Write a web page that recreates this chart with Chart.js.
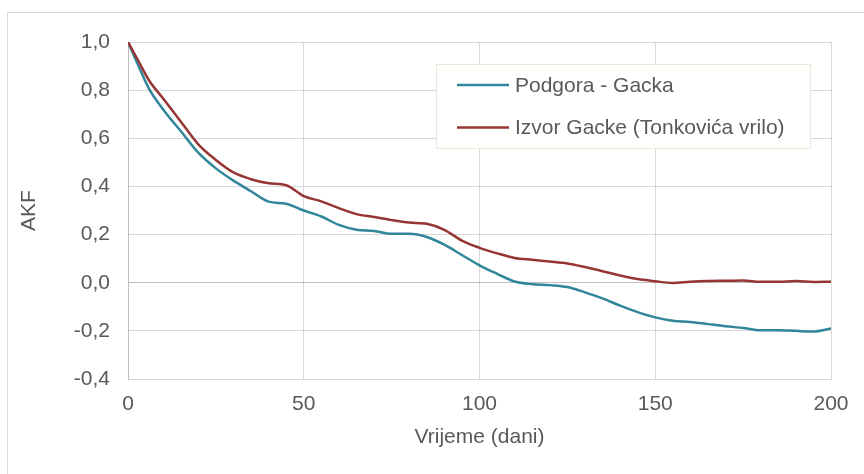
<!DOCTYPE html>
<html>
<head>
<meta charset="utf-8">
<script src="https://cdn.jsdelivr.net/npm/chart.js@4/dist/chart.umd.min.js"></script>
<style>
  html, body { margin:0; padding:0; background:#fff; }
  #wrap { position:relative; width:864px; height:474px; }
</style>
</head>
<body>
<div id="wrap"><canvas id="akfChart" width="864" height="474"></canvas></div>
<script>
// vrijeme (dani)
const days = [0,3,6,10,15,20,25,30,35,40,45,50,55,60,65,70,75,80,85,90,95,100,105,110,115,120,125,130,135,140,145,150,155,160,165,170,175,180,185,190,195,200];
// Podgora - Gacka
const podgora = [1.0,0.9,0.805,0.72,0.63,0.54,0.475,0.424,0.38,0.337,0.328,0.30,0.275,0.24,0.22,0.215,0.203,0.203,0.19,0.158,0.115,0.072,0.037,0.005,-0.006,-0.01,-0.018,-0.04,-0.065,-0.095,-0.122,-0.144,-0.158,-0.163,-0.172,-0.181,-0.188,-0.197,-0.197,-0.2,-0.203,-0.19];
// Izvor Gacke (Tonkovića vrilo)
const izvor = [1.0,0.92,0.84,0.765,0.67,0.575,0.51,0.458,0.43,0.413,0.405,0.36,0.338,0.31,0.285,0.273,0.26,0.25,0.245,0.22,0.175,0.145,0.122,0.103,0.095,0.088,0.08,0.065,0.048,0.03,0.015,0.006,-0.001,0.004,0.007,0.008,0.009,0.004,0.004,0.007,0.003,0.004];
const seriesNames = ["Podgora - Gacka","Izvor Gacke (Tonkovića vrilo)"];
const seriesColors = ["#31869b","#963634"];
const yTicks = [-0.4,-0.2,0,0.2,0.4,0.6,0.8,1.0];
const xTicks = [0,50,100,150,200];

const textColor = "#595959";
const fontFam = "'Liberation Sans', Arial, sans-serif";

function toPoints(vals){
  return days.map((d,i)=>({x:d, y:vals[i]}));
}

// outer frame of the chart object
const framePlugin = {
  id:"frame",
  beforeDraw(chart){
    const ctx = chart.ctx;
    ctx.save();
    ctx.fillStyle = "#fff";
    ctx.fillRect(0,0,chart.width,chart.height);
    ctx.strokeStyle = "#d9d9d9";
    ctx.lineWidth = 1;
    ctx.beginPath();
    ctx.moveTo(7.5, chart.height);
    ctx.lineTo(7.5, 12.5);
    ctx.lineTo(chart.width, 12.5);
    ctx.stroke();
    ctx.restore();
  }
};

// legend box inside plot area
const boxLegend = {
  id:"boxLegend",
  afterDatasetsDraw(chart){
    const ctx = chart.ctx;
    const x = 436.5, y = 64.5, w = 374, h = 84;
    ctx.save();
    ctx.fillStyle = "#fffffd";
    ctx.fillRect(x,y,w,h);
    ctx.strokeStyle = "#ece8dc";
    ctx.lineWidth = 1;
    ctx.strokeRect(x,y,w,h);
    ctx.font = "21px " + fontFam;
    ctx.textBaseline = "middle";
    ctx.fillStyle = textColor;
    seriesNames.forEach((name,i)=>{
      const ry = 85 + i*42.5;
      ctx.strokeStyle = seriesColors[i];
      ctx.lineWidth = 2.5;
      ctx.beginPath();
      ctx.moveTo(457, ry);
      ctx.lineTo(509, ry);
      ctx.stroke();
      ctx.fillText(name, 515, ry + 1);
    });
    ctx.restore();
  }
};

const ctx = document.getElementById("akfChart").getContext("2d");
new Chart(ctx,{
  type:"line",
  data:{
    datasets: seriesNames.map((name,i)=>({
      label:name,
      data: toPoints(i===0 ? podgora : izvor),
      borderColor: seriesColors[i],
      borderWidth: 2.5,
      pointRadius: 0,
      cubicInterpolationMode: "monotone",
      fill:false
    })).reverse()
  },
  options:{
    responsive:false,
    animation:false,
    layout:{ padding:{left:0,right:33,top:42,bottom:0} },
    plugins:{ legend:{display:false}, tooltip:{enabled:false} },
    scales:{
      x:{
        type:"linear",
        min:0, max:200,
        afterBuildTicks(scale){ scale.ticks = xTicks.map(v=>({value:v})); },
        afterFit(scale){ scale.height = 95; },
        ticks:{ color:textColor, font:{family:fontFam, size:21}, padding:13, maxRotation:0 },
        grid:{ color:"#d9d9d9", drawTicks:false },
        border:{ color:"#d9d9d9" },
        title:{ display:true, text:"Vrijeme (dani)", color:textColor, font:{family:fontFam, size:21}, padding:{top:24,bottom:24} }
      },
      y:{
        min:-0.4, max:1.0,
        afterBuildTicks(scale){ scale.ticks = yTicks.map(v=>({value:v})); },
        afterFit(scale){ scale.width = 128; },
        ticks:{ color:textColor, font:{family:fontFam, size:21}, padding:18,
          callback:v=>v.toFixed(1).replace(".",",") },
        grid:{ drawTicks:false,
          color:c=> (c.tick && Math.abs(c.tick.value)<1e-9) ? "#bfbfbf" : "#d9d9d9" },
        border:{ color:"#bfbfbf" },
        title:{ display:true, text:"AKF", color:textColor, font:{family:fontFam, size:21}, padding:{top:17,bottom:17} }
      }
    }
  },
  plugins:[framePlugin, boxLegend]
});
</script>
</body>
</html>
